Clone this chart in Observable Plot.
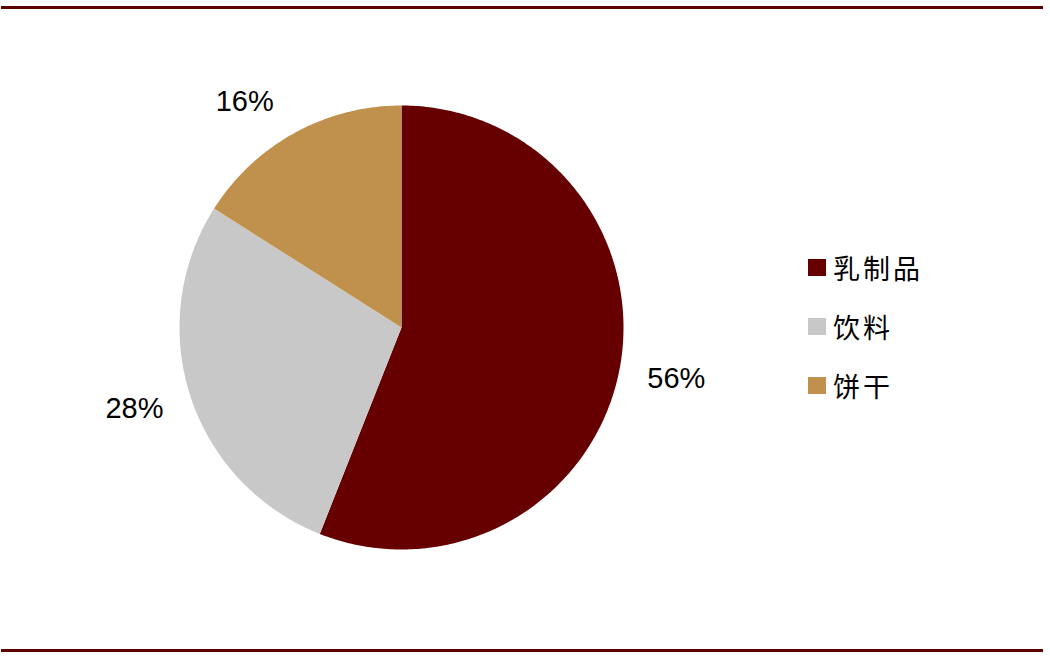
<!DOCTYPE html>
<html>
<head>
<meta charset="utf-8">
<script src="https://cdn.jsdelivr.net/npm/d3@7"></script>
<script src="https://cdn.jsdelivr.net/npm/@observablehq/plot@0.6"></script>
<style>
  html, body { margin: 0; padding: 0; background: #fff; }
  #wrap { position: relative; width: 1050px; height: 659px; overflow: hidden; }
  #legend { position: absolute; left: 808px; top: 238px; font-family: "Noto Sans CJK SC", sans-serif; font-size: 27px; letter-spacing: 3px; color: #000; }
  .item { display: flex; align-items: center; height: 59px; }
  .sw { width: 18px; height: 17px; margin-right: 7px; }
</style>
</head>
<body>
<div id="wrap"><div id="legend"></div></div>
<script>
const categories = ["乳制品", "饮料", "饼干"];
const shares = [56, 28, 16];
const labels = ["56%", "28%", "16%"];
const colors = ["#660000", "#C8C8C8", "#C0904D"];

const W = 1050, H = 659;
const cx = 401, cy = 327, R = 222;
// pixel nudges for the data labels (layout only)
const labelNudge = [[0, -1], [-1, -5], [-22, 19]];

const pie = d3.pie().sort(null).value(d => d.v)(categories.map((c, i) => ({c, v: shares[i], label: labels[i]})));

const pts = [];
for (const a of pie) {
  pts.push({name: a.data.c, x: 0, y: 0});
  const n = Math.max(8, Math.ceil((a.endAngle - a.startAngle) * 80));
  for (let k = 0; k <= n; k++) {
    const t = a.startAngle + (a.endAngle - a.startAngle) * k / n;
    pts.push({name: a.data.c, x: Math.sin(t), y: Math.cos(t)});
  }
  pts.push({name: a.data.c, x: 0, y: 0});
}
const labelR = 1.26;
const labelData = pie.map(a => {
  const m = (a.startAngle + a.endAngle) / 2;
  return {text: a.data.label, x: Math.sin(m) * labelR, y: Math.cos(m) * labelR};
});

const chart = Plot.plot({
  width: W, height: H,
  margin: 0,
  x: {domain: [-cx / R, (W - cx) / R], range: [0, W], axis: null},
  y: {domain: [-(H - cy) / R, cy / R], range: [H, 0], axis: null},
  color: {domain: categories, range: colors},
  marks: [
    Plot.line(pts, {x: "x", y: "y", z: "name", fill: "name", stroke: "none", curve: "linear"}),
    ...labelData.map((d, i) => Plot.text([d], {x: "x", y: "y", text: "text", dx: labelNudge[i][0], dy: labelNudge[i][1], fontSize: 29, fill: "#000", fontFamily: "Liberation Sans, Arial, sans-serif"}))
  ],
  style: {background: "transparent"}
});
chart.style.position = "absolute";
chart.style.left = "0px";
chart.style.top = "0px";
const wrap = document.getElementById("wrap");
wrap.insertBefore(chart, wrap.firstChild);

for (const top of [6, 649]) {
  const r = document.createElement("div");
  r.style.cssText = `position:absolute;left:1px;width:1042px;top:${top}px;height:3px;background:#5C0000;`;
  wrap.appendChild(r);
}

const legend = document.getElementById("legend");
categories.forEach((c, i) => {
  const item = document.createElement("div");
  item.className = "item";
  item.innerHTML = `<span class="sw" style="background:${colors[i]}"></span><span>${c}</span>`;
  legend.appendChild(item);
});
</script>
</body>
</html>
